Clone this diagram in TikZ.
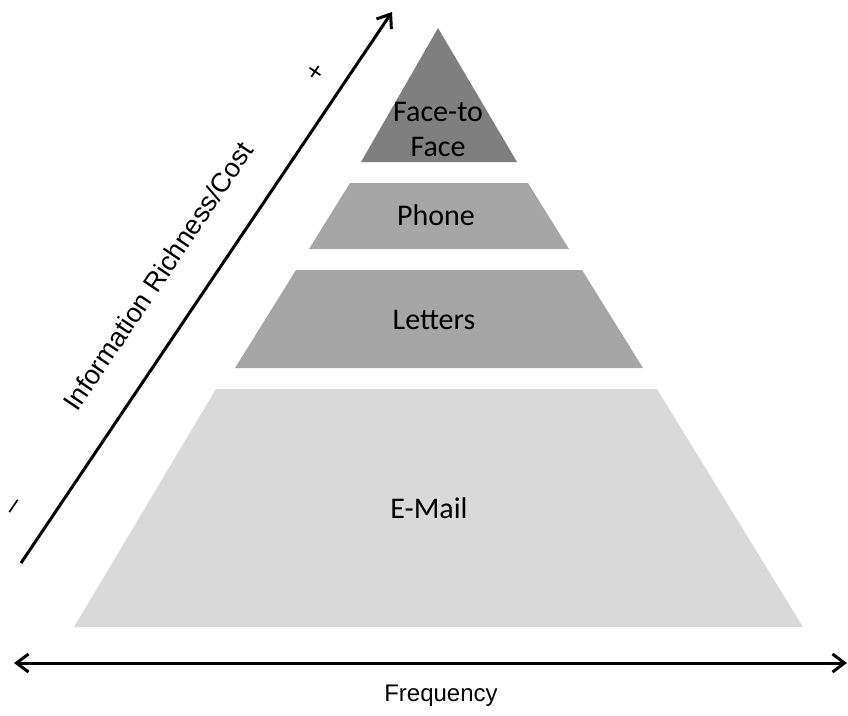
\documentclass[tikz,border=0pt]{standalone}
\usepackage{fontspec}
\setmainfont{Liberation Sans}
\newfontfamily\calib{Carlito}
\usetikzlibrary{arrows.meta}
\definecolor{gdark}{HTML}{7F7F7F}
\definecolor{gmid}{HTML}{A6A6A6}
\definecolor{glight}{HTML}{D9D9D9}
\tikzset{
  axis/.style={line width=3pt, {Straight Barb[length=12pt,width=18pt]}-{Straight Barb[length=12pt,width=18pt]}},
  axisone/.style={line width=3pt, -{Straight Barb[length=12pt,width=18pt]}},
  layerlabel/.style={font=\calib\fontsize{30}{35}\selectfont, text=black, align=center, inner sep=0pt},
  axlabel/.style={font=\fontsize{24}{28}\selectfont, text=black, inner sep=0pt},
}
\begin{document}
\begin{tikzpicture}[x=1pt,y=-1pt]
\useasboundingbox (0,0) rectangle (848,715);
% layers
\fill[gdark] (438,28) -- (517,162) -- (361,162) -- cycle;
\fill[gmid] (350,183) -- (528,183) -- (569,249) -- (309,249) -- cycle;
\fill[gmid] (296,270) -- (582,270) -- (643,368) -- (235,368) -- cycle;
\fill[glight] (216,389) -- (657,389) -- (803,627) -- (74,627) -- cycle;
\node[layerlabel] (face) at (438,129) {Face-to\\Face};
\node[layerlabel] (phone) at (436,215) {Phone};
\node[layerlabel] (letters) at (434,320) {Letters};
\node[layerlabel] (email) at (429,508) {E-Mail};
% axes
\coordinate (dstart) at (21,563);
\coordinate (dend) at (392,12);
\draw[axisone] (dstart) -- (dend);
\coordinate (hleft) at (14,663);
\coordinate (hright) at (847,663);
\draw[axis] (hleft) -- (hright);
\node[axlabel, font=\fontsize{27}{30}\selectfont, rotate=56] (rich) at (158,276) {Information Richness/Cost};
\node[axlabel, font=\fontsize{27}{30}\selectfont, rotate=56] (plus) at (316,73) {+};
\node[axlabel, font=\fontsize{27}{30}\selectfont, rotate=56] (minus) at (16,508) {\textendash};
\node[axlabel] (freq) at (441,696) {Frequency};
\end{tikzpicture}
\end{document}
